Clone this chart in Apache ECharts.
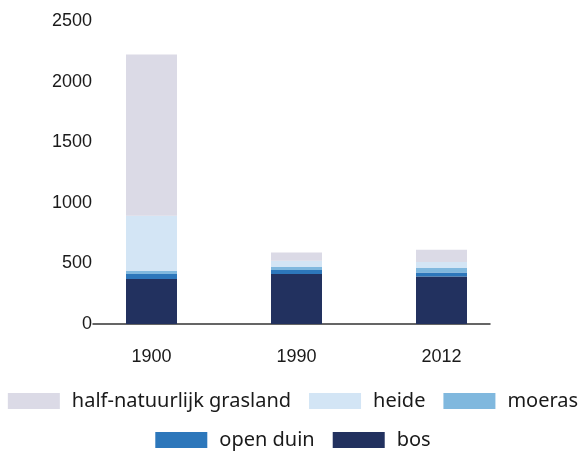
<!DOCTYPE html>
<html>
<head>
<meta charset="utf-8">
<script src="https://cdn.jsdelivr.net/npm/echarts@6/dist/echarts.min.js"></script>
<style>
html,body{margin:0;padding:0;background:#fff}
#main{width:586px;height:452px}
</style>
</head>
<body>
<div id="main"></div>
<script>
var years = ['1900', '1990', '2012'];
var bos = [372, 413, 391];
var openDuin = [41, 33, 33];
var moeras = [25, 25, 39];
var heide = [455, 50, 49];
var grasland = [1330, 68, 100];

var myChart = echarts.init(document.getElementById('main'));

function bar(name, data, color) {
    return {
        name: name,
        type: 'bar',
        stack: 'tot',
        barWidth: 51,
        xAxisIndex: 0,
        yAxisIndex: 0,
        itemStyle: {color: color},
        data: data
    };
}

var legendText = {fontSize: 20, fontFamily: 'Noto Sans', color: '#1a1a1a', padding: [0, 0, 0, 7]};
var tickFont = {fontSize: 18, fontFamily: 'Liberation Sans', color: '#1a1a1a'};

option = {
    animation: false,
    grid: [
        // bars
        {left: 79, right: 72, top: 21, bottom: 128},
        // axis line + y labels
        {left: 93, right: 96, top: 21, bottom: 128}
    ],
    xAxis: [{
        type: 'category',
        gridIndex: 0,
        data: years,
        axisLine: {show: false},
        axisTick: {show: false},
        axisLabel: Object.assign({margin: 24}, tickFont)
    }, {
        type: 'value',
        gridIndex: 1,
        min: 0, max: 1,
        splitLine: {show: false},
        axisLine: {show: true, lineStyle: {color: '#333', width: 1.5}},
        axisTick: {show: false},
        axisLabel: {show: false}
    }],
    yAxis: [{
        type: 'value',
        gridIndex: 0,
        min: 0, max: 2500, interval: 500,
        show: false
    }, {
        type: 'value',
        gridIndex: 1,
        min: 0, max: 2500, interval: 500,
        splitLine: {show: false},
        axisLine: {show: false},
        axisTick: {show: false},
        axisLabel: Object.assign({margin: 1, formatter: function (v) { return String(v); }}, tickFont)
    }],
    legend: [{
        data: ['half-natuurlijk grasland', 'heide', 'moeras'],
        top: 386, left: 'center',
        itemWidth: 52, itemHeight: 16, itemGap: 18,
        icon: 'rect',
        textStyle: legendText
    }, {
        data: ['open duin', 'bos'],
        top: 425, left: 'center',
        itemWidth: 52, itemHeight: 16, itemGap: 18,
        icon: 'rect',
        textStyle: legendText
    }],
    series: [
        bar('bos', bos, '#22315f'),
        bar('open duin', openDuin, '#2d77bb'),
        bar('moeras', moeras, '#80b8de'),
        bar('heide', heide, '#d3e5f5'),
        bar('half-natuurlijk grasland', grasland, '#dbdae6')
    ]
};
myChart.setOption(option);
</script>
</body>
</html>
